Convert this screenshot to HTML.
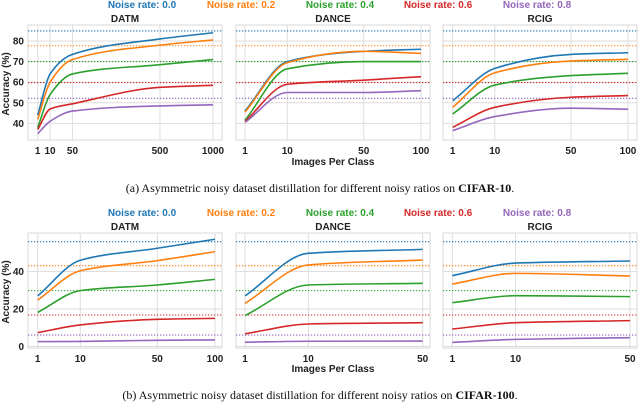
<!DOCTYPE html>
<html><head><meta charset="utf-8"><style>
html,body{margin:0;padding:0;background:#fff;}
svg{display:block;font-family:"Liberation Sans",sans-serif;}
</style></head><body>
<svg id="fig" width="640" height="403" viewBox="0 0 640 403"></svg>
<script>
const NS='http://www.w3.org/2000/svg';
const colors=['#1f77b4','#ff7f0e','#2ca02c','#d62728','#9467bd'];
const legendLabels=['Noise rate: 0.0','Noise rate: 0.2','Noise rate: 0.4','Noise rate: 0.6','Noise rate: 0.8'];
const methods=['DATM','DANCE','RCIG'];
// CIFAR-10
const c10X_DATM=[1,10,50,500,1000];
const c10X_DANCE=[1,10,50,100];
const c10X_RCIG=[1,10,50,100];
const c10_DATM=[[44,64,73.5,81,84],[42,60,71,78,80.5],[38,54,64,68.5,71],[37,47,49.5,57.5,58.5],[35,41,46,48.5,49]];
const c10_DANCE=[[46,70,75,76],[45.5,69.5,75,74],[41.5,66.5,70,70],[41,59,61,62.7],[40.5,55,55,55.9]];
const c10_RCIG=[[51,66.7,73.5,74.3],[47.8,64.6,70.3,71.1],[44.6,58.6,63.2,64.3],[38.1,47.8,52.7,53.5],[36.5,43.3,47.4,46.9]];
const c10Ref=[84.9,77.7,70,59.8,52.2];
const c10Ticks=[40,50,60,70,80];
const c10XTicks=[[1,10,50,500,1000],[1,10,50,100],[1,10,50,100]];
// CIFAR-100
const c100X_DATM=[1,10,50,100];
const c100X_DANCE=[1,10,50];
const c100X_RCIG=[1,10,50];
const c100_DATM=[[27,46,52.4,57.2],[24.8,40.4,45.8,50.6],[18.2,29.8,32.8,35.8],[7.4,11.5,14.5,15],[2.6,2.7,3.3,3.5]];
const c100_DANCE=[[27,49.7,51.8],[23,43.5,46.1],[16.5,32.8,33.7],[6.8,12,12.7],[2.3,2.8,2.9]];
const c100_RCIG=[[37.8,44.5,45.6],[33.3,39,37.6],[23.4,27.1,26.6],[9.3,12.7,13.8],[2.2,3.8,4.7]];
const c100Ref=[55.9,43.1,29.8,16.8,6.1];
const c100Ticks=[0,20,40];
const c100XTicks=[[1,10,50,100],[1,10,50],[1,10,50]];

const svg=document.getElementById('fig');
function el(tag,attrs,parent){const e=document.createElementNS(NS,tag);for(const k in attrs)e.setAttribute(k,attrs[k]);(parent||svg).appendChild(e);return e;}
function txt(s,attrs,parent){const e=el('text',attrs,parent);e.textContent=s;return e;}

function monotone(pts){
  const n=pts.length;if(n<2)return '';
  const dx=[],dy=[],m=[];
  for(let i=0;i<n-1;i++){dx.push(pts[i+1][0]-pts[i][0]);dy.push(pts[i+1][1]-pts[i][1]);m.push(dy[i]/dx[i]);}
  const t=[m[0]];
  for(let i=1;i<n-1;i++){t.push(m[i-1]*m[i]<=0?0:(3*(dx[i-1]+dx[i]))/((2*dx[i]+dx[i-1])/m[i-1]+(dx[i]+2*dx[i-1])/m[i]));}
  t.push(m[n-2]);
  let d='M'+pts[0][0].toFixed(2)+','+pts[0][1].toFixed(2);
  for(let i=0;i<n-1;i++){const h=dx[i]/3;
    d+=' C'+(pts[i][0]+h).toFixed(2)+','+(pts[i][1]+h*t[i]).toFixed(2)+' '+(pts[i+1][0]-h).toFixed(2)+','+(pts[i+1][1]-h*t[i+1]).toFixed(2)+' '+pts[i+1][0].toFixed(2)+','+pts[i+1][1].toFixed(2);}
  return d;
}

function panel(p){
  const g=el('g',{});
  
  
  const x=v=>p.x0+(Math.sqrt(v)-1)*(p.x1-p.x0)/(Math.sqrt(p.xmax)-1);
  const y=v=>p.yA-(v-p.vA)*p.ppu;
  el('rect',{x:p.L,y:p.T,width:p.R-p.L,height:p.B-p.T,fill:'#fff',stroke:'#d9d9d9','stroke-width':1},g);
  p.yticks.forEach(v=>{el('line',{x1:p.L,x2:p.R,y1:y(v),y2:y(v),stroke:'#dedede','stroke-width':1},g);});
  p.xticks.forEach(v=>{el('line',{x1:x(v),x2:x(v),y1:p.T,y2:p.B,stroke:'#dedede','stroke-width':1},g);
    const t=txt(String(v),{x:x(v),y:p.B+14,'text-anchor':'middle','font-size':10,'font-weight':'bold',fill:'#222'},g);
    });
  if(p.showY){p.yticks.forEach(v=>{const t=txt(String(v),{x:p.L-4,y:y(v)+3.5,'text-anchor':'end','font-size':10,'font-weight':'bold',fill:'#222'},g);
    });}
  p.ref.forEach((v,i)=>{const l=el('line',{x1:p.L,x2:p.R,y1:y(v),y2:y(v),stroke:colors[i],'stroke-width':1.1,'stroke-dasharray':'1.3,1.7'},g);
    });
  p.series.forEach((s,i)=>{const pts=s.map((v,j)=>[x(p.xs[j]),y(v)]);
    const path=el('path',{d:monotone(pts),fill:'none',stroke:colors[i],'stroke-width':1.6,'stroke-linejoin':'round'},g);
    });
  const tt=txt(p.title,{x:(p.L+p.R)/2,y:p.T-3,'text-anchor':'middle','font-size':10,'font-weight':'bold',fill:'#222'},g);
  
}

function legend(yy){
  const cx=[142,241,340,438,537];
  legendLabels.forEach((s,i)=>{const t=txt(s,{x:cx[i],y:yy,'text-anchor':'middle','font-size':10,'font-weight':'bold',fill:colors[i]});
    });
}

const topP={T:25,B:140,yA:41,vA:80,ppu:2.06,yticks:c10Ticks,ref:c10Ref};
const botP={T:233,B:348,yA:346.5,vA:0,ppu:1.875,yticks:c100Ticks,ref:c100Ref};
const cols=[{L:28,R:222},{L:236,R:430},{L:443,R:637}];

legend(8);
panel(Object.assign({},topP,cols[0],{name:'cifar10-datm-panel',title:methods[0],x0:37.7,x1:213,xmax:1000,xs:c10X_DATM,xticks:c10XTicks[0],series:c10_DATM,showY:true}));
panel(Object.assign({},topP,cols[1],{name:'cifar10-dance-panel',title:methods[1],x0:245,x1:421,xmax:100,xs:c10X_DANCE,xticks:c10XTicks[1],series:c10_DANCE}));
panel(Object.assign({},topP,cols[2],{name:'cifar10-rcig-panel',title:methods[2],x0:452.7,x1:628,xmax:100,xs:c10X_RCIG,xticks:c10XTicks[2],series:c10_RCIG}));
legend(216);
panel(Object.assign({},botP,cols[0],{name:'cifar100-datm-panel',title:methods[0],x0:37.7,x1:215,xmax:100,xs:c100X_DATM,xticks:c100XTicks[0],series:c100_DATM,showY:true}));
panel(Object.assign({},botP,cols[1],{name:'cifar100-dance-panel',title:methods[1],x0:245,x1:422.7,xmax:50,xs:c100X_DANCE,xticks:c100XTicks[1],series:c100_DANCE}));
panel(Object.assign({},botP,cols[2],{name:'cifar100-rcig-panel',title:methods[2],x0:452.3,x1:630,xmax:50,xs:c100X_RCIG,xticks:c100XTicks[2],series:c100_RCIG}));

let t;
t=txt('Images Per Class',{x:333,y:165,'text-anchor':'middle','font-size':10,'font-weight':'bold',fill:'#222'});

t=txt('Images Per Class',{x:333,y:372,'text-anchor':'middle','font-size':10,'font-weight':'bold',fill:'#222'});

t=txt('Accuracy (%)',{x:0,y:0,'text-anchor':'middle','font-size':10,'font-weight':'bold',fill:'#222',transform:'translate(9,84) rotate(-90)'});

t=txt('Accuracy (%)',{x:0,y:0,'text-anchor':'middle','font-size':10,'font-weight':'bold',fill:'#222',transform:'translate(9,292) rotate(-90)'});


function caption(yy,pre,bold){const e=el('text',{x:320,y:yy,'text-anchor':'middle','font-size':12,fill:'#111','font-family':'Liberation Serif, serif'});
  
  const a=el('tspan',{},e);a.textContent=pre;const b=el('tspan',{'font-weight':'bold'},e);b.textContent=bold;const c=el('tspan',{},e);c.textContent='.';}
caption(192,'(a) Asymmetric noisy dataset distillation for different noisy ratios on ','CIFAR-10');
caption(399,'(b) Asymmetric noisy dataset distillation for different noisy ratios on ','CIFAR-100');
</script>
</body></html>
